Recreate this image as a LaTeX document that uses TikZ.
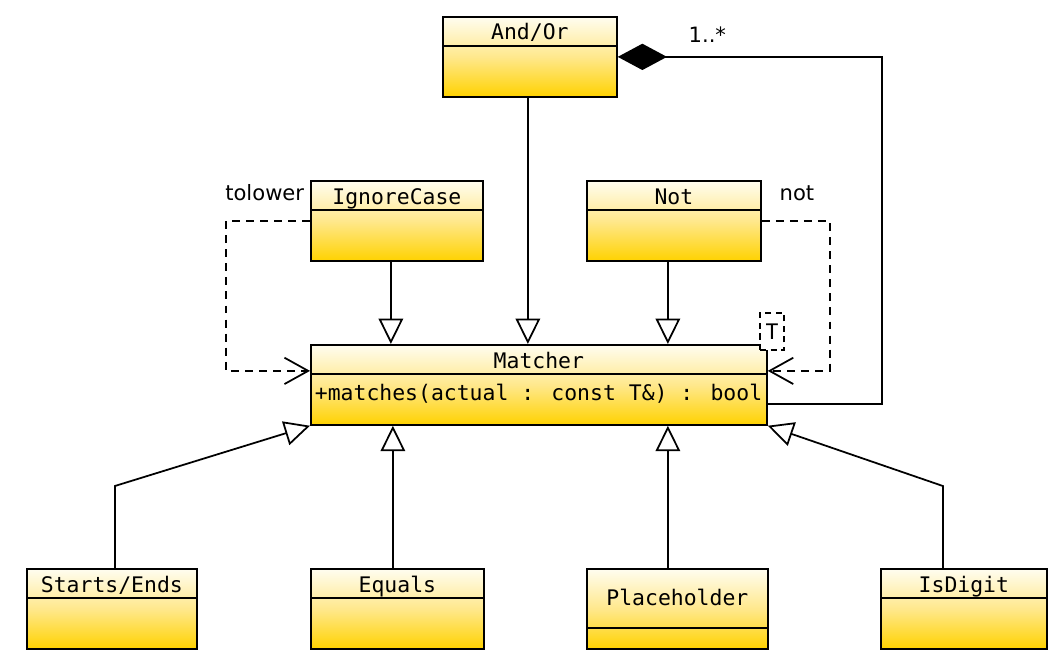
\documentclass[tikz,border=0pt]{standalone}
\usepackage{fontspec}
\setmainfont{DejaVu Sans}
\newfontfamily\classfont{DejaVu Sans Mono}
\usetikzlibrary{arrows.meta,positioning}

\definecolor{clstop}{HTML}{FFFDF0}
\definecolor{clsmid}{HTML}{FFE88C}
\definecolor{clsbot}{HTML}{FFD200}

\def\px{0.02cm}

\begin{document}
\begin{tikzpicture}[
    x = \px, y = -\px,
    line width = 1pt,
    cls/.style = {
      draw,
      rectangle,
      anchor = north west,
      inner sep = 0pt,
      minimum height = 80*\px,
      top color = clstop,
      bottom color = clsbot,
      middle color = clsmid
    },
    clsname/.style = {
      anchor = base,
      inner sep = 0pt,
      font = \fontsize{12.2}{14}\classfont
    },
    tag/.style = {
      inner sep = 0pt,
      font = \fontsize{12}{14}\selectfont
    },
    tparam/.style = {
      draw,
      dash pattern = on 3.5pt off 2.5pt,
      fill = white,
      inner sep = 0pt,
      minimum width = 24*\px,
      minimum height = 37*\px,
      font = \fontsize{12.2}{14}\classfont
    },
    gen/.style = {-{Triangle[length=14.5pt, width=14pt, fill=white]}},
    dep/.style = {dash pattern=on 4.5pt off 3.5pt, -{Straight Barb[length=13.5pt, width=15pt]}},
    comp/.style = {-{Diamond[length=28pt, width=15pt]}}
  ]
  \useasboundingbox (0,0) rectangle (1060,662);

  % classes
  \node[cls, minimum width=174*\px] (andor) at (442,16) {};
  \draw (andor.north west) ++(0,30) -- ++(174,0);
  \path (andor.north) ++(0,24) node[clsname] (andorname) {And/Or};

  \node[cls, minimum width=172*\px] (ignorecase) at (310,180) {};
  \draw (ignorecase.north west) ++(0,30) -- ++(172,0);
  \path (ignorecase.north) ++(0,24) node[clsname] (ignorecasename) {IgnoreCase};

  \node[cls, minimum width=174*\px] (notcls) at (586,180) {};
  \draw (notcls.north west) ++(0,30) -- ++(174,0);
  \path (notcls.north) ++(0,24) node[clsname] (notclsname) {Not};

  \node[cls, minimum width=456*\px] (matcher) at (310,344) {};
  \draw (matcher.north west) ++(0,30) -- ++(456,0);
  \path (matcher.north) ++(0,24) node[clsname] (matchername) {Matcher};
  \path (matcher.north west) ++(4,56) node[clsname, anchor=base west] (matcherop) {+matches(actual : const T\&) : bool};
  \node[tparam] (tparam) at (772,331.5) {T};

  \node[cls, minimum width=170*\px] (startsends) at (26,568) {};
  \draw (startsends.north west) ++(0,30) -- ++(170,0);
  \path (startsends.north) ++(0,24) node[clsname] (startsendsname) {Starts/Ends};

  \node[cls, minimum width=173*\px] (equals) at (310,568) {};
  \draw (equals.north west) ++(0,30) -- ++(173,0);
  \path (equals.north) ++(0,24) node[clsname] (equalsname) {Equals};

  \node[cls, minimum width=181*\px] (placeholder) at (586,568) {};
  \draw (placeholder.north west) ++(0,60) -- ++(181,0);
  \path (placeholder.north) ++(0,37) node[clsname] (placeholdername) {Placeholder};

  \node[cls, minimum width=166*\px] (isdigit) at (880,568) {};
  \draw (isdigit.north west) ++(0,30) -- ++(166,0);
  \path (isdigit.north) ++(0,24) node[clsname] (isdigitname) {IsDigit};

  % inheritance
  \draw[gen] ([xshift=-2*\px]andor.south) -- ([xshift=-2*\px]andor.south |- matcher.north);
  \draw[gen] ([xshift=-6*\px]ignorecase.south) -- ([xshift=-6*\px]ignorecase.south |- matcher.north);
  \draw[gen] ([xshift=-6*\px]notcls.south) -- ([xshift=-6*\px]notcls.south |- matcher.north);
  \draw[gen] ([xshift=3*\px]startsends.north) -- ++(0,-82) -- (matcher.south west);
  \draw[gen] ([xshift=-4.5*\px]equals.north) -- ([xshift=-4.5*\px]equals.north |- matcher.south);
  \draw[gen] ([xshift=-9.5*\px]placeholder.north) -- ([xshift=-9.5*\px]placeholder.north |- matcher.south);
  \draw[gen] ([xshift=-21*\px]isdigit.north) -- ++(0,-82) -- (matcher.south east);

  % wrapped matchers
  \draw[dep] (ignorecase.west) -- ++(-84,0) |- ([yshift=14*\px]matcher.west);
  \draw[dep] (notcls.east) -- ++(68,0) |- ([yshift=14*\px]matcher.east);
  \draw[comp] ([yshift=22*\px]matcher.south east) -- ++(114,0) |- (andor.east);

  % labels
  \path (ignorecase.north west) ++(-5,20) node[tag, anchor=base east] (tolower) {tolower};
  \path (notcls.north east) ++(17,20) node[tag, anchor=base west] (notlabel) {not};
  \path (andor.north east) ++(70,27) node[tag, anchor=base west] (mult) {1..*};
\end{tikzpicture}
\end{document}
